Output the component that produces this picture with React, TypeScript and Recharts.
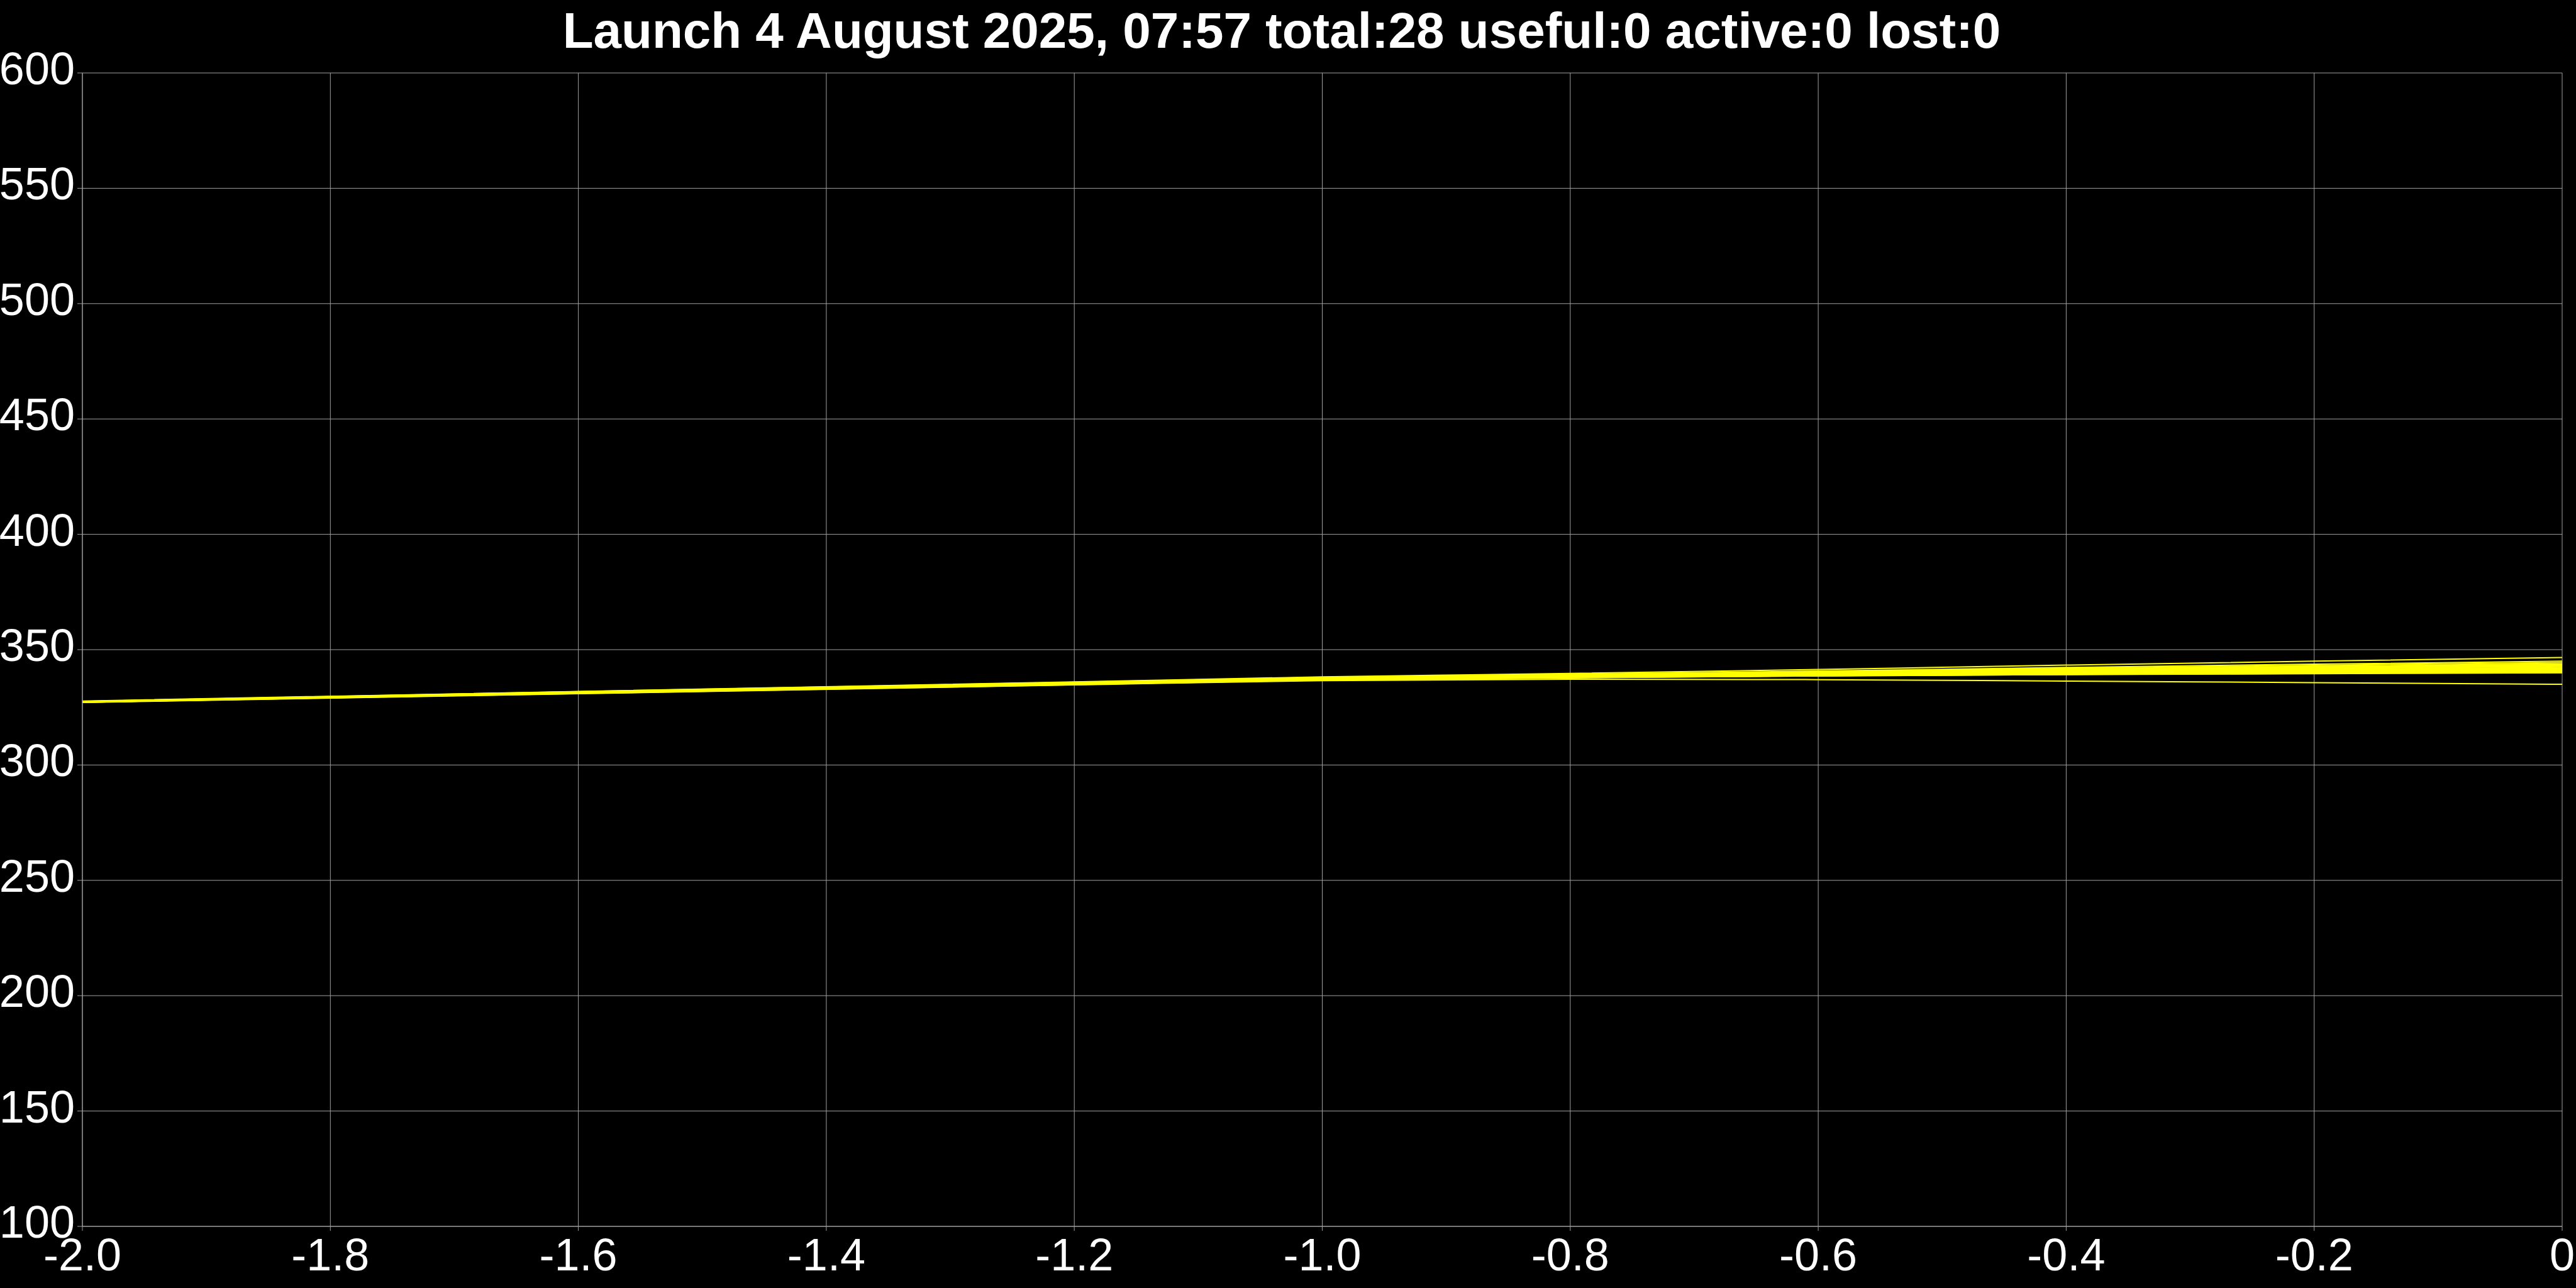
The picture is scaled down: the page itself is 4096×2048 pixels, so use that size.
import { CartesianGrid, Line, LineChart, XAxis, YAxis } from 'recharts'

const title = 'Launch 4 August 2025, 07:57 total:28 useful:0 active:0 lost:0'

// x positions (same for every trajectory)
const xs = [-2.0, -1.6, -1.2, -1.0, -0.8, -0.6, -0.4, -0.2, 0]
const xTicks = [-2.0, -1.8, -1.6, -1.4, -1.2, -1.0, -0.8, -0.6, -0.4, -0.2, 0]
const yTicks = [100, 150, 200, 250, 300, 350, 400, 450, 500, 550, 600]

// trajectories, one array each
const t01 = [327.7, 331.9, 336.0, 338.2, 339.7, 341.4, 343.3, 345.0, 346.6]
const t02 = [327.6, 331.8, 335.9, 338.0, 339.3, 340.7, 342.3, 343.7, 345.0]
const t03 = [327.6, 331.7, 335.8, 337.9, 339.1, 340.4, 341.9, 343.2, 344.4]
const t04 = [327.5, 331.6, 335.7, 337.8, 338.9, 340.2, 341.6, 342.8, 343.9]
const t05 = [327.5, 331.6, 335.6, 337.7, 338.8, 340.1, 341.4, 342.5, 343.6]
const t06 = [327.5, 331.5, 335.6, 337.7, 338.7, 340.0, 341.2, 342.3, 343.3]
const t07 = [327.5, 331.5, 335.5, 337.6, 338.7, 339.9, 341.0, 342.1, 343.0]
const t08 = [327.4, 331.5, 335.5, 337.5, 338.6, 339.7, 340.8, 341.8, 342.7]
const t09 = [327.4, 331.4, 335.4, 337.4, 338.5, 339.6, 340.6, 341.5, 342.3]
const t10 = [327.4, 331.4, 335.4, 337.4, 338.4, 339.5, 340.5, 341.3, 342.1]
const t11 = [327.4, 331.4, 335.4, 337.3, 338.4, 339.4, 340.3, 341.2, 341.9]
const t12 = [327.4, 331.4, 335.3, 337.3, 338.3, 339.3, 340.2, 341.0, 341.7]
const t13 = [327.4, 331.4, 335.3, 337.2, 338.3, 339.3, 340.1, 340.9, 341.6]
const t14 = [327.4, 331.4, 335.3, 337.2, 338.2, 339.2, 340.0, 340.8, 341.4]
const t15 = [327.4, 331.4, 335.3, 337.2, 338.2, 339.1, 339.9, 340.6, 341.2]
const t16 = [327.4, 331.4, 335.3, 337.2, 338.2, 339.1, 339.8, 340.5, 341.1]
const t17 = [327.4, 331.3, 335.2, 337.1, 338.2, 339.0, 339.8, 340.4, 341.0]
const t18 = [327.4, 331.3, 335.2, 337.1, 338.1, 339.0, 339.7, 340.4, 340.9]
const t19 = [327.3, 331.3, 335.2, 337.1, 338.1, 338.9, 339.7, 340.3, 340.8]
const t20 = [327.3, 331.3, 335.1, 337.0, 338.1, 338.9, 339.6, 340.2, 340.7]
const t21 = [327.3, 331.2, 335.1, 337.0, 338.1, 338.9, 339.5, 340.1, 340.6]
const t22 = [327.3, 331.2, 335.1, 337.0, 338.0, 338.8, 339.5, 340.0, 340.5]
const t23 = [327.3, 331.2, 335.0, 336.9, 338.0, 338.8, 339.4, 340.0, 340.4]
const t24 = [327.3, 331.2, 335.0, 336.9, 338.0, 338.7, 339.3, 339.9, 340.3]
const t25 = [327.2, 331.1, 335.0, 336.9, 337.9, 338.7, 339.3, 339.8, 340.2]
const t26 = [327.2, 331.1, 334.9, 336.8, 337.9, 338.6, 339.2, 339.7, 340.1]
const t27 = [327.2, 331.0, 334.8, 336.8, 337.8, 338.6, 339.2, 339.6, 340.0]
const t28 = [327.1, 330.9, 334.7, 336.6, 337.2, 337.0, 336.4, 335.7, 335.0]

const trajectories = [
  t01, t02, t03, t04, t05, t06, t07, t08, t09, t10, t11, t12, t13, t14,
  t15, t16, t17, t18, t19, t20, t21, t22, t23, t24, t25, t26, t27, t28,
]

const data = xs.map((x, i) => {
  const row: Record<string, number> = { x }
  trajectories.forEach((t, k) => {
    row[`s${k}`] = t[i]
  })
  return row
})

const FONT = '"Liberation Sans", Arial, sans-serif'
const GRID = '#a0a0a0'

const formatX = (v: number) => (v === 0 ? '0' : v.toFixed(1))

const XTick = ({ x, y, payload }: any) => (
  <text x={x} y={y + 63} textAnchor="middle" fill="#fff" fontSize={72} fontFamily={FONT}>
    {formatX(payload.value)}
  </text>
)

const YTick = ({ x, y, payload }: any) => (
  <text x={x} y={y + 18} textAnchor="end" fill="#fff" fontSize={72} fontFamily={FONT}>
    {payload.value}
  </text>
)

export default function App() {
  return (
    <div style={{ position: 'fixed', left: 0, top: 0, width: 4096, height: 2048, background: '#000' }}>
      <div
        style={{
          position: 'absolute',
          left: -10,
          top: 9,
          width: 4096,
          textAlign: 'center',
          color: '#fff',
          fontFamily: FONT,
          fontWeight: 'bold',
          fontSize: 80,
          lineHeight: '80px',
          whiteSpace: 'nowrap',
        }}
      >
        {title}
      </div>
      <LineChart
        width={4096}
        height={2048}
        data={data}
        margin={{ top: 116, right: 22, bottom: 0, left: 0 }}
      >
        <CartesianGrid stroke={GRID} strokeWidth={1} />
        <XAxis
          type="number"
          dataKey="x"
          domain={[-2, 0]}
          ticks={xTicks}
          interval={0}
          height={98}
          tickSize={7}
          tickMargin={0}
          axisLine={{ stroke: GRID }}
          tickLine={{ stroke: GRID }}
          tick={<XTick />}
        />
        <YAxis
          type="number"
          domain={[100, 600]}
          ticks={yTicks}
          interval={0}
          width={131}
          tickSize={8}
          tickMargin={4}
          axisLine={{ stroke: GRID }}
          tickLine={{ stroke: GRID }}
          tick={<YTick />}
        />
        {trajectories.map((_, k) => (
          <Line
            key={k}
            type="monotone"
            dataKey={`s${k}`}
            stroke="#ffff00"
            strokeWidth={2}
            dot={false}
            activeDot={false}
            isAnimationActive={false}
          />
        ))}
      </LineChart>
    </div>
  )
}
